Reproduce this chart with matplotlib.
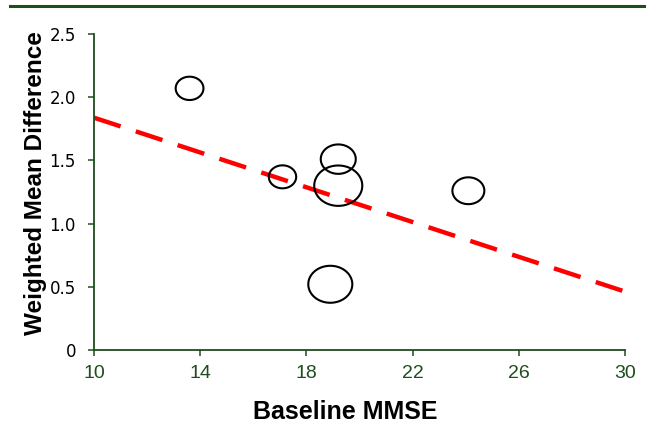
import numpy as np
import matplotlib
matplotlib.use('Agg')
import matplotlib.pyplot as plt
from matplotlib.path import Path
from matplotlib.lines import Line2D

plt.rcParams['font.family'] = ['Liberation Sans', 'DejaVu Sans']

# Study estimates: baseline MMSE vs weighted mean difference
mmse = [13.6, 17.1, 19.2, 19.2, 24.1, 18.9]
wmd = [2.07, 1.37, 1.51, 1.30, 1.26, 0.52]
weight = [20.0, 19.7, 25.2, 34.6, 23.0, 31.7]   # bubble width (pt), study weight

# Meta-regression line
reg_x = [10, 30]
reg_intercept = 2.526
reg_slope = -0.0688

xticks = [10, 14, 18, 22, 26, 30]
yticks = [0, 0.5, 1.0, 1.5, 2.0, 2.5]
yticklabels = ['0', '0.5', '1.0', '1.5', '2.0', '2.5']

green = '#1e4d1e'

# elliptical marker (a bit wider than tall)
t = np.linspace(0, 2 * np.pi, 100)
ellipse = Path(np.column_stack([0.5 * np.cos(t), 0.42 * np.sin(t)]), closed=True)

fig = plt.figure(figsize=(6.54, 4.32), dpi=100)
ax = fig.add_axes([0.1437, 0.1898, 0.812, 0.7315])

fig.add_artist(Line2D([0.015, 0.985], [0.986, 0.986], color=green, lw=2.2,
                      transform=fig.transFigure))

rx = np.array(reg_x, dtype=float)
ax.plot(rx, reg_intercept + reg_slope * rx, color='#ff0000', lw=3.2,
        dashes=(6.3, 3.6), zorder=1, solid_capstyle='butt')

for x, y, w in zip(mmse, wmd, weight):
    ax.scatter([x], [y], s=w ** 2, marker=ellipse, facecolors='none',
               edgecolors='black', linewidths=1.5, zorder=2, clip_on=False)

ax.set_xlim(10, 30)
ax.set_ylim(0, 2.5)
ax.set_xticks(xticks)
ax.set_yticks(yticks)
ax.set_yticklabels(yticklabels, family='DejaVu Sans')

for s in ['top', 'right']:
    ax.spines[s].set_visible(False)
for s in ['left', 'bottom']:
    ax.spines[s].set_color(green)
    ax.spines[s].set_linewidth(1.3)

ax.tick_params(axis='x', colors=green, labelsize=14, length=4, width=1.1,
               pad=7, direction='out')
ax.tick_params(axis='y', color=green, labelcolor='black', labelsize=12,
               length=4, width=1.1, pad=9, direction='out')

ax.set_xlabel('Baseline MMSE', fontsize=18, fontweight='bold')
ax.set_ylabel('Weighted Mean Difference', fontsize=17.5, fontweight='bold')
ax.xaxis.set_label_coords(0.473, -0.158)
ax.yaxis.set_label_coords(-0.0885, 0.527)

fig.savefig('out.png', dpi=100)
